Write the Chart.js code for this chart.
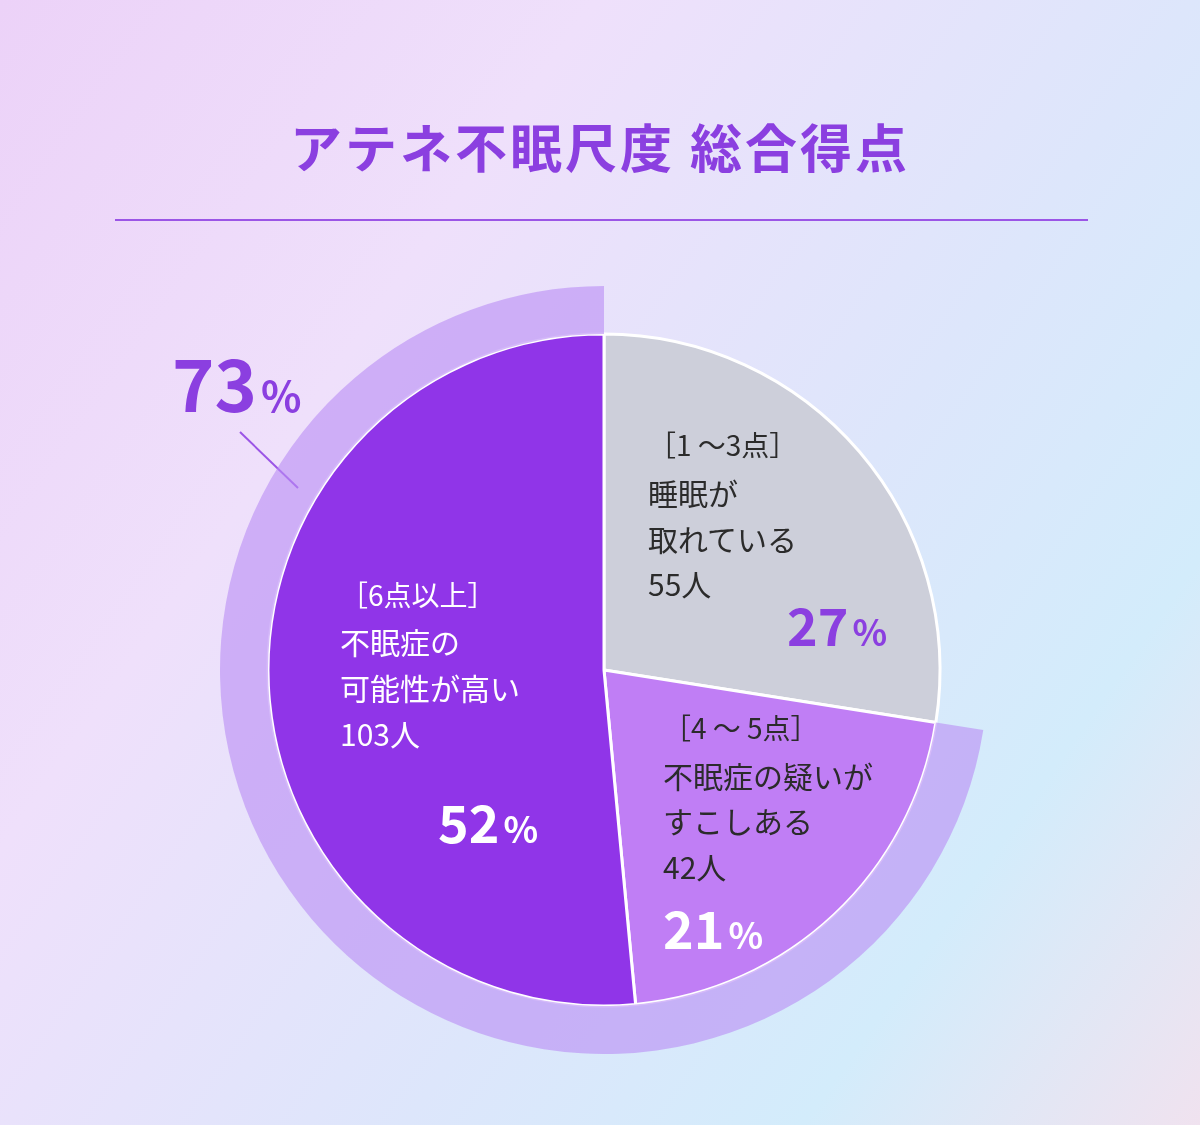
<!DOCTYPE html>
<html>
<head>
<meta charset="utf-8">
<script src="https://cdn.jsdelivr.net/npm/chart.js@4.4.0/dist/chart.umd.min.js"></script>
<style>
  html, body { margin: 0; padding: 0; }
  body {
    width: 1200px; height: 1125px; position: relative; overflow: hidden;
    font-family: "Noto Sans CJK JP", "Noto Sans", sans-serif;
    background: linear-gradient(125deg, #ecd2f8 0%, #efe0fb 30%, #dde6fb 60%, #d3ecfb 80%, #f0e2ef 100%);
  }
  .t { position: absolute; white-space: nowrap; line-height: 1; }
  .dark { color: #2b2b2b; font-size: 30px; }
  .white { color: #fff; font-size: 30px; }
  .big { font-weight: 700; font-size: 52px; }
  .big small { font-size: 36px; margin-left: 4px; }
  #wrap { position: absolute; left: 220px; top: 286px; width: 768px; height: 768px; }
</style>
</head>
<body>
<div class="t" style="left:0;width:1200px;text-align:center;top:120px;font-size:52px;font-weight:700;color:#8b3fe0;letter-spacing:3px;">アテネ不眠尺度 総合得点</div>
<svg style="position:absolute;left:0;top:0" width="1200" height="1125">
  <line x1="115" y1="220" x2="1088" y2="220" stroke="#9b55e6" stroke-width="2"/>
  <line x1="240" y1="432" x2="298" y2="488" stroke="#9b55e6" stroke-width="2"/>
</svg>
<div id="wrap"><canvas id="pie"></canvas></div>

<div class="t big" style="left:172px;top:345px;font-size:72px;color:#8b3fe0;">73<small style="font-size:42px">%</small></div>

<div class="t dark" style="left:648px;top:430px;font-size:28px;">［1 ～3点］</div>
<div class="t dark" style="left:648px;top:477px;">睡眠が</div>
<div class="t dark" style="left:648px;top:523px;">取れている</div>
<div class="t dark" style="left:648px;top:568px;">55人</div>
<div class="t big" style="left:787px;top:598px;color:#8b3fe0;">27<small>%</small></div>

<div class="t white" style="left:340px;top:580px;font-size:28px;">［6点以上］</div>
<div class="t white" style="left:340px;top:626px;">不眠症の</div>
<div class="t white" style="left:340px;top:672px;">可能性が高い</div>
<div class="t white" style="left:340px;top:718px;">103人</div>
<div class="t big" style="left:438px;top:795px;color:#fff;">52<small>%</small></div>

<div class="t dark" style="left:663px;top:713px;font-size:28px;">［4 ～ 5点］</div>
<div class="t dark" style="left:663px;top:760px;">不眠症の疑いが</div>
<div class="t dark" style="left:663px;top:805px;">すこしある</div>
<div class="t dark" style="left:663px;top:851px;">42人</div>
<div class="t big" style="left:663px;top:901px;color:#fff;">21<small>%</small></div>

<script>
var categories = ['1～3点', '4～5点', '6点以上'];
var counts = [55, 42, 103];
var ringValues = [55, 145]; // 73% = 4～5点 + 6点以上

var ctx = document.getElementById('pie');
new Chart(ctx, {
    type: 'doughnut',
    data: {
        labels: categories,
        datasets: [
            {
                data: ringValues,
                backgroundColor: ['rgba(0,0,0,0)', 'rgba(185,140,245,0.6)'],
                borderWidth: 0,
                weight: 48
            },
            {
                data: counts,
                backgroundColor: ['#cdcfda', '#c07ef5', '#9035e8'],
                borderColor: '#ffffff',
                borderWidth: 3,
                weight: 336
            }
        ]
    },
    options: {
        responsive: true,
        maintainAspectRatio: true,
        animation: false,
        cutout: 0,
        layout: { padding: 0 },
        plugins: { legend: { display: false }, tooltip: { enabled: false } }
    }
});
</script>
</body>
</html>
